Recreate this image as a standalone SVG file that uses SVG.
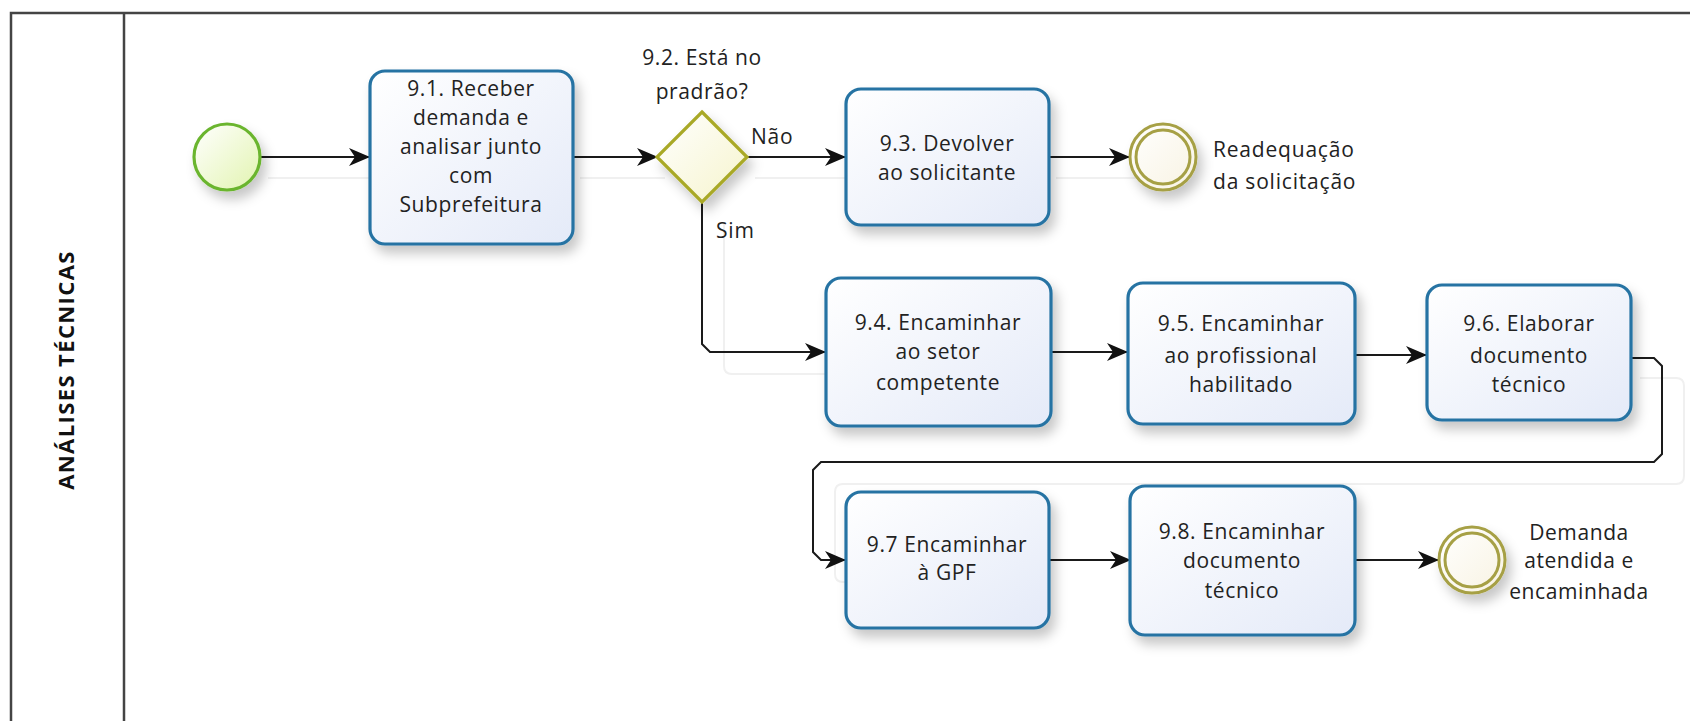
<svg xmlns="http://www.w3.org/2000/svg" width="1690" height="721" viewBox="0 0 1690 721">
<defs>
<linearGradient id="gTask" x1="0" y1="0" x2="1" y2="1">
<stop offset="0" stop-color="#ffffff"/><stop offset="1" stop-color="#e4eaf8"/>
</linearGradient>
<linearGradient id="gStart" x1="0" y1="0" x2="1" y2="1">
<stop offset="0" stop-color="#ffffff"/><stop offset="1" stop-color="#e2f4b0"/>
</linearGradient>
<linearGradient id="gGate" x1="0" y1="0" x2="1" y2="1">
<stop offset="0" stop-color="#ffffff"/><stop offset="1" stop-color="#f6f4cc"/>
</linearGradient>
<linearGradient id="gEnd" x1="0" y1="0" x2="1" y2="1">
<stop offset="0" stop-color="#ffffff"/><stop offset="1" stop-color="#f8f3e2"/>
</linearGradient>
<filter id="sh" x="-20%" y="-20%" width="150%" height="160%">
<feDropShadow dx="5" dy="8" stdDeviation="6" flood-color="#000" flood-opacity="0.22"/>
</filter>
<marker id="arr" markerWidth="22" markerHeight="18" refX="20" refY="9" orient="auto" markerUnits="userSpaceOnUse">
<path d="M0,0 L21,9 L0,18 L6,9 z" fill="#111"/>
</marker>
</defs>
<style>
.task{fill:url(#gTask);stroke:#2573a3;stroke-width:3.2;filter:url(#sh)}
.t{font-family:"Open Sans","Noto Sans",sans-serif;font-size:21px;letter-spacing:0.6px;fill:#222;text-anchor:middle}
.tl{font-family:"Open Sans","Noto Sans",sans-serif;font-size:21px;letter-spacing:0.8px;fill:#222}
.flow{fill:none;stroke:#1a1a1a;stroke-width:2;marker-end:url(#arr)}
.shadowline{fill:none;stroke:#f0f0f0;stroke-width:2}
.lane{fill:none;stroke:#444;stroke-width:2.5}
</style>

<g id="pool">
<rect x="11" y="13" width="1700" height="720" class="lane"/>
<line x1="124" y1="13" x2="124" y2="730" class="lane"/>
<text transform="translate(74,370) rotate(-90)" font-family="Open Sans, Noto Sans, sans-serif" font-weight="bold" font-size="22" letter-spacing="1.4" text-anchor="middle" fill="#111">ANÁLISES TÉCNICAS</text>
</g>

<g id="connector-shadows">
<path class="shadowline" d="M268,178 H380"/>
<path class="shadowline" d="M580,178 H665"/>
<path class="shadowline" d="M755,178 H860"/>
<path class="shadowline" d="M1056,178 H1140"/>
<path class="shadowline" d="M724,224 V366 Q724,374 732,374 H840"/>
<path class="shadowline" d="M1640,378 H1676 Q1684,378 1684,386 V476 Q1684,484 1676,484 H843 Q835,484 835,492 V574 Q835,582 843,582 H860"/>
</g>

<g id="connectors">
<path class="flow" d="M261,157 H369"/>
<path class="flow" d="M573,157 H657"/>
<path class="flow" d="M747,157 H845"/>
<path class="flow" d="M1049,157 H1129"/>
<path class="flow" d="M702,202 V344 L710,352 H825"/>
<path class="flow" d="M1051,352 H1127"/>
<path class="flow" d="M1355,355 H1426"/>
<path class="flow" d="M1631,358 H1654 L1662,366 V454 L1654,462 H821 L813,470 V552 L821,560 H845"/>
<path class="flow" d="M1049,560 H1130"/>
<path class="flow" d="M1355,560 H1438"/>
<text class="tl" x="751" y="144">Não</text>
<text class="tl" x="716" y="238">Sim</text>
</g>

<g id="start">
<circle cx="227" cy="157" r="33" fill="url(#gStart)" stroke="#6bb52f" stroke-width="3.2" filter="url(#sh)"/>
</g>

<g id="task-9-1">
<rect class="task" x="370" y="71" width="203" height="173" rx="15"/>
<text class="t" x="471" y="96">9.1. Receber</text>
<text class="t" x="471" y="125">demanda e</text>
<text class="t" x="471" y="154">analisar junto</text>
<text class="t" x="471" y="183">com</text>
<text class="t" x="471" y="212">Subprefeitura</text>
</g>

<g id="gateway-9-2">
<polygon points="702,112 747,157 702,202 657,157" fill="url(#gGate)" stroke="#a9a928" stroke-width="3.2" filter="url(#sh)"/>
<text class="t" x="702" y="65">9.2. Está no</text>
<text class="t" x="702" y="99">pradrão?</text>
</g>

<g id="task-9-3">
<rect class="task" x="846" y="89" width="203" height="136" rx="15"/>
<text class="t" x="947" y="151">9.3. Devolver</text>
<text class="t" x="947" y="180">ao solicitante</text>
</g>

<g id="end-readequacao">
<circle cx="1163" cy="157" r="33" fill="url(#gEnd)" stroke="#a6a045" stroke-width="3" filter="url(#sh)"/>
<circle cx="1163" cy="157" r="27" fill="none" stroke="#a6a045" stroke-width="3"/>
<text class="tl" x="1213" y="157">Readequação</text>
<text class="tl" x="1213" y="189">da solicitação</text>
</g>

<g id="task-9-4">
<rect class="task" x="826" y="278" width="225" height="148" rx="15"/>
<text class="t" x="938" y="330">9.4. Encaminhar</text>
<text class="t" x="938" y="359">ao setor</text>
<text class="t" x="938" y="390">competente</text>
</g>

<g id="task-9-5">
<rect class="task" x="1128" y="283" width="227" height="141" rx="15"/>
<text class="t" x="1241" y="331">9.5. Encaminhar</text>
<text class="t" x="1241" y="363">ao profissional</text>
<text class="t" x="1241" y="392">habilitado</text>
</g>

<g id="task-9-6">
<rect class="task" x="1427" y="285" width="204" height="135" rx="15"/>
<text class="t" x="1529" y="331">9.6. Elaborar</text>
<text class="t" x="1529" y="363">documento</text>
<text class="t" x="1529" y="392">técnico</text>
</g>

<g id="task-9-7">
<rect class="task" x="846" y="492" width="203" height="136" rx="15"/>
<text class="t" x="947" y="552">9.7 Encaminhar</text>
<text class="t" x="947" y="580">à GPF</text>
</g>

<g id="task-9-8">
<rect class="task" x="1130" y="486" width="225" height="149" rx="15"/>
<text class="t" x="1242" y="539">9.8. Encaminhar</text>
<text class="t" x="1242" y="568">documento</text>
<text class="t" x="1242" y="598">técnico</text>
</g>

<g id="end-demanda">
<circle cx="1472" cy="560" r="33" fill="url(#gEnd)" stroke="#a6a045" stroke-width="3" filter="url(#sh)"/>
<circle cx="1472" cy="560" r="27" fill="none" stroke="#a6a045" stroke-width="3"/>
<text class="t" x="1579" y="540">Demanda</text>
<text class="t" x="1579" y="568">atendida e</text>
<text class="t" x="1579" y="599">encaminhada</text>
</g>
</svg>
